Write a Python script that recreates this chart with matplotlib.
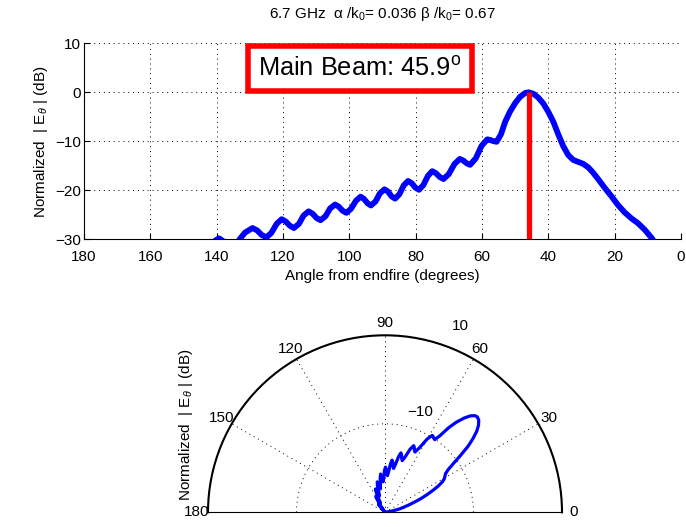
import matplotlib

matplotlib.use("Agg")
import matplotlib.pyplot as plt
import numpy as np

plt.rcParams["font.family"] = ["Liberation Sans", "DejaVu Sans"]
plt.rcParams["mathtext.fontset"] = "custom"
plt.rcParams["mathtext.rm"] = "Liberation Sans"
plt.rcParams["mathtext.it"] = "Liberation Sans:italic"
plt.rcParams["mathtext.bf"] = "Liberation Sans:bold"

# pattern (angle from endfire in degrees, normalized dB)
angle_deg = [143.0, 140.5, 139.3, 138.2, 136.0, 133.7, 131.5, 129.2, 127.8, 126.4,
             125.0, 123.5, 121.9, 120.4, 119.2, 117.9, 116.7, 115.2, 113.8, 112.3,
             111.1, 109.9, 108.7, 107.2, 105.8, 104.3, 103.2, 102.0, 100.9, 99.5,
             98.0, 96.6, 95.6, 94.5, 93.5, 92.1, 90.8, 89.4, 88.3, 87.3,
             86.2, 84.9, 83.6, 82.3, 81.2, 80.1, 79.0, 77.7, 76.3, 75.0,
             73.9, 72.7, 71.6, 70.0, 68.3, 66.7, 65.7, 64.6, 63.6, 61.9,
             60.1, 58.4, 57.5, 56.5, 55.6, 54.3, 53.0, 51.6, 50.0, 48.5,
             47.0, 45.9, 44.5, 43.0, 41.5, 40.0, 38.5, 37.0, 35.5, 34.0,
             32.5, 31.0, 29.5, 28.0, 26.5, 25.0, 23.0, 21.0, 19.0, 17.0,
             15.0, 13.0, 11.0, 9.0, 7.0, 5.0]
pattern_db = [-34.0, -30.3, -29.8, -30.3, -31.5, -30.55, -28.65, -27.7, -28.18, -29.13,
              -29.6, -28.68, -26.83, -25.9, -26.35, -27.25, -27.7, -26.85, -25.15, -24.3,
              -24.75, -25.65, -26.1, -25.3, -23.7, -22.9, -23.33, -24.18, -24.6, -23.78,
              -22.13, -21.3, -21.75, -22.65, -23.1, -22.28, -20.63, -19.8, -20.28, -21.23,
              -21.7, -20.8, -19.0, -18.1, -18.55, -19.45, -19.9, -18.95, -17.05, -16.1,
              -16.5, -17.3, -17.7, -16.68, -14.63, -13.6, -13.9, -14.5, -14.8, -13.5,
              -10.9, -9.6, -9.73, -9.98, -10.1, -8.6, -6.0, -4.0, -2.2, -0.9,
              -0.15, 0.0, -0.3, -1.1, -2.3, -4.0, -6.0, -8.6, -11.0, -12.8,
              -13.8, -14.2, -14.6, -15.3, -16.4, -17.7, -19.5, -21.2, -23.0, -24.5,
              -25.7, -26.7, -28.0, -29.6, -31.5, -33.5]
main_beam = 45.9
db_floor = -30
db_top = 10

title = "6.7 GHz  \u03b1 /k$_0$= 0.036 \u03b2 /k$_0$= 0.67"
ylabel = "Normalized  | E$_\\theta$ | (dB)"
x_ticks = [180, 160, 140, 120, 100, 80, 60, 40, 20, 0]
y_ticks = [-30, -20, -10, 0, 10]
theta_ticks = [0, 30, 60, 90, 120, 150, 180]

dots = (0, (1, 4))
fig = plt.figure(figsize=(6.86, 5.27), dpi=100)

# ---- cartesian pattern
ax = fig.add_axes([84 / 686, 1 - 239.3 / 527, 597 / 686, 196 / 527])
ax.plot(angle_deg, pattern_db, color="#0000ff", lw=4.2, solid_capstyle="butt", zorder=3)
ax.plot([main_beam, main_beam], [db_floor, 0], color="#ff0000", lw=3.8, solid_capstyle="butt", zorder=4)
ax.set_xlim(180, 0)
ax.set_ylim(db_floor, db_top)
ax.set_xticks(x_ticks)
ax.set_yticks(y_ticks)
ax.set_yticklabels([str(v).replace("-", "\u2212") for v in y_ticks])
ax.grid(True, color="k", lw=0.7, linestyle=dots)
ax.spines["top"].set_visible(False)
ax.spines["right"].set_visible(False)
ax.tick_params(direction="in", length=4, labelsize=11)
ax.tick_params(axis="x", pad=7.5)
ax.tick_params(axis="y", pad=2)
ax.set_xlabel("Angle from endfire (degrees)", fontsize=11, labelpad=4)
ax.set_ylabel(ylabel, fontsize=11, labelpad=4)
ax.set_title(title, fontsize=11, pad=18)
ax.text(96.8, 4.8, "Main Beam: %.1f$^\\mathregular{o}$" % main_beam, fontsize=18.3,
        ha="center", va="center", zorder=5,
        bbox=dict(boxstyle="square,pad=0.42", fc="white", ec="#ff0000", lw=4))

# ---- polar pattern (square box, the half disc sits in its middle)
pax = fig.add_axes([208 / 686, 1 - 600.8 / 527, 354 / 686, 354 / 527], projection="polar")
pax.set_thetamin(0)
pax.set_thetamax(180)
pax.set_rlim(db_floor, db_top)
r_vals = np.maximum(np.array(pattern_db), db_floor)
pax.plot(np.deg2rad(angle_deg), r_vals, color="#0000ff", lw=2.3, zorder=3)
pax.set_thetagrids(theta_ticks, [str(t) for t in theta_ticks], fontsize=11)
pax.set_rgrids([-10, 10], labels=["", ""])
pax.grid(True, color="k", lw=0.7, linestyle=dots)
pax.spines["polar"].set_linewidth(1.5)
pax.spines["start"].set_visible(False)
pax.spines["end"].set_visible(False)
pax.tick_params(axis="x", pad=-2)
pax.text(np.deg2rad(68), 15.5, "10", fontsize=11, ha="center", va="center")
pax.text(np.deg2rad(70.7), -6.0, "\u221210", fontsize=11, ha="center", va="center")
fig.text(186 / 686, 1 - 425 / 527, ylabel, fontsize=11, rotation=90, ha="center", va="center")

fig.savefig("out.png", dpi=100)
